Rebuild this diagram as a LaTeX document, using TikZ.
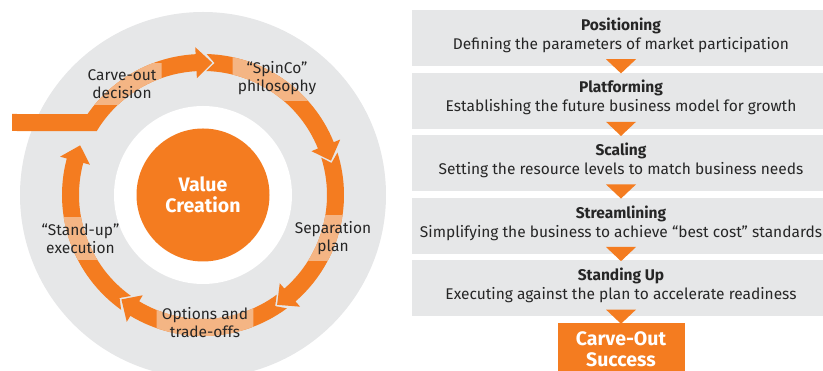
\documentclass[tikz,border=0pt]{standalone}
\usepackage{fontspec}
\setmainfont{Fira Sans}
\usetikzlibrary{calc,positioning}

\definecolor{carve}{HTML}{F47C20}
\definecolor{carvelight}{HTML}{F4B584}
\definecolor{ringgray}{HTML}{E6E7E8}
\definecolor{inktext}{HTML}{262626}

\pgfdeclarelayer{back}
\pgfsetlayers{back,main}

\tikzset{
  steplabel/.style={text=inktext, align=center, inner xsep=5pt, inner ysep=6pt,
    font=\fontsize{15.5}{18}\selectfont},
  stepbox/.style={fill=ringgray, minimum width=418pt, minimum height=56pt,
    text depth=9pt, align=center, text=inktext, font=\fontsize{15.5}{19}\selectfont},
}

% clockwise piece of the ring: colour, tail angle, tip angle
\newcommand{\cyclearc}[3]{%
  \fill[#1] (#2:141pt) arc[start angle=#2, end angle=#3+7, radius=141pt]
    -- (#3+7:148pt) -- (#3:132.5pt) -- (#3+7:117pt)
    -- (#3+7:124pt) arc[start angle=#3+7, end angle=#2, radius=124pt]
    -- (#2-3.5:132.5pt) -- cycle;}

% the lead-in bar and the four pieces that follow it
\newcommand{\cyclearrows}[1]{%
  \fill[#1] (-191,81) -- (145:141pt) arc[start angle=145, end angle=93, radius=141pt]
    -- (93:148pt) -- (86:132.5pt) -- (93:117pt)
    -- (93:124pt) arc[start angle=93, end angle=149, radius=124pt]
    -- (-191,64) -- cycle;
  \cyclearc{#1}{88.5}{15}
  \cyclearc{#1}{17.5}{-56}
  \cyclearc{#1}{-53.5}{-128}
  \cyclearc{#1}{-125.5}{-202}}

\begin{document}
\begin{tikzpicture}[x=1pt,y=1pt]
  \clip (0,0) rectangle (823,371);

  \begin{scope}[shift={(203,176)}]
    \node[circle, fill=carve, minimum size=133pt, text=white, align=center,
      font=\bfseries\fontsize{19.5}{21}\selectfont] (value) at (0,0) {Value\\Creation};

    \node[steplabel] (decision) at (-81,111) {Carve-out\\decision};
    \node[steplabel] (philosophy) at (74,117) {“SpinCo”\\philosophy};
    \node[steplabel] (plan) at (130,-43) {Separation\\plan};
    \node[steplabel] (tradeoffs) at (2,-127.5) {Options and\\trade-offs};
    \node[steplabel] (execution) at (-122.5,-43.5) {“Stand-up”\\execution};

    \begin{pgfonlayer}{back}
      \fill[ringgray] (0,0) circle[radius=183pt];
      \fill[white] (0,0) circle[radius=89pt];
      \cyclearrows{carve}
      \foreach \lbl in {decision,philosophy,plan,tradeoffs,execution}{
        \begin{scope}
          \clip (\lbl.south west) rectangle (\lbl.north east);
          \cyclearrows{carvelight}
        \end{scope}}
    \end{pgfonlayer}
  \end{scope}

  \node[stepbox] (positioning) at (621,333)
    {\textbf{Positioning}\\Defining the parameters of market participation};
  \node[stepbox, below=6.2pt of positioning] (platforming)
    {\textbf{Platforming}\\Establishing the future business model for growth};
  \node[stepbox, below=6.2pt of platforming] (scaling)
    {\textbf{Scaling}\\Setting the resource levels to match business needs};
  \node[stepbox, below=6.2pt of scaling] (streamlining)
    {\textbf{Streamlining}\\Simplifying the business to achieve “best cost” standards};
  \node[stepbox, below=6.2pt of streamlining] (standingup)
    {\textbf{Standing Up}\\Executing against the plan to accelerate readiness};
  \node[fill=carve, minimum width=127pt, minimum height=53pt, text=white, align=center,
    font=\bfseries\fontsize{19.5}{21}\selectfont, below=6.2pt of standingup] (success)
    {Carve-Out\\Success};

  \foreach \a/\b in {positioning/platforming, platforming/scaling, scaling/streamlining,
      streamlining/standingup, standingup/success}
    \fill[carve] ($(\a.south)+(-15,7)$) -- ($(\a.south)+(15,7)$) -- ($(\b.north)+(0,-1)$) -- cycle;
\end{tikzpicture}
\end{document}
